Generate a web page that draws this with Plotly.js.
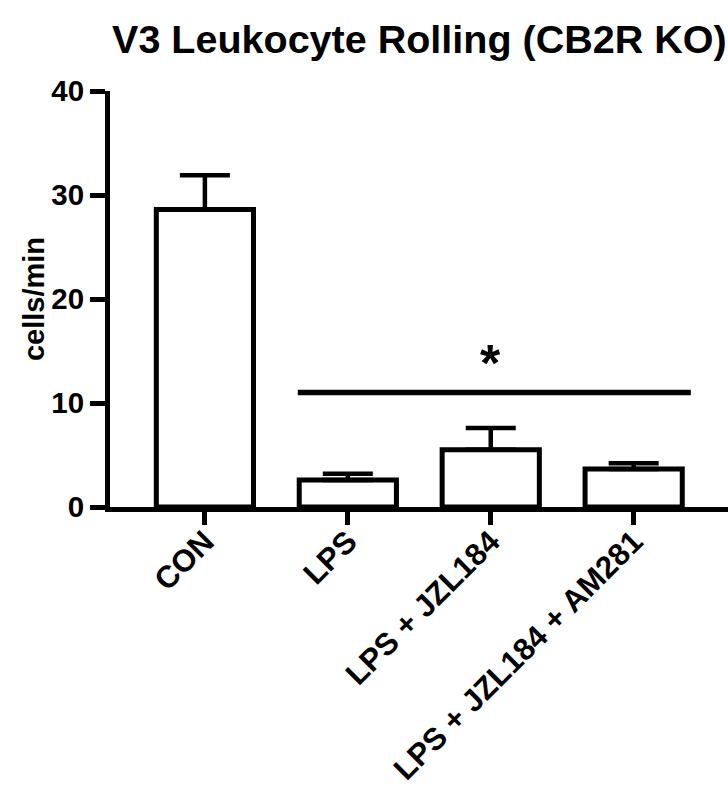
<!DOCTYPE html>
<html>
<head>
<meta charset="utf-8">
<script src="https://cdn.plot.ly/plotly-3.0.1.min.js"></script>
<style>html,body{margin:0;padding:0;background:#fff;}#chart{width:728px;height:791px;}</style>
</head>
<body>
<div id="chart"></div>
<script>
// Data
var categories = ["CON", "LPS", "LPS + JZL184", "LPS + JZL184 + AM281"];
var means = [28.6, 2.6, 5.5, 3.65];
var sems = [3.3, 0.6, 2.1, 0.55];
var sigFrom = "LPS";
var sigTo = "LPS + JZL184 + AM281";
var sigLevel = 11;
var sigMark = "*";
var yTicks = [0, 10, 20, 30, 40];

var FONT = "Liberation Sans, Arial, Helvetica, sans-serif";
var fromIdx = categories.indexOf(sigFrom);
var toIdx = categories.indexOf(sigTo);

var trace = {
  type: "bar",
  x: categories,
  y: means,
  width: 0.68,
  marker: {color: "#ffffff", line: {color: "#000000", width: 5}},
  error_y: {
    type: "data",
    symmetric: false,
    array: sems,
    arrayminus: means.map(function(){return 0;}),
    color: "#000000",
    thickness: 4.5,
    width: 25
  },
  hoverinfo: "skip"
};

var layout = {
  width: 728,
  height: 791,
  margin: {l: 110, r: 0, t: 91, b: 284},
  paper_bgcolor: "#ffffff",
  plot_bgcolor: "#ffffff",
  showlegend: false,
  title: {
    text: "V3 Leukocyte Rolling (CB2R KO)",
    font: {family: FONT, size: 39.5, color: "#000000", weight: 700},
    x: 0.576, xanchor: "center",
    y: 1 - 39 / 791, yanchor: "middle", yref: "container"
  },
  xaxis: {
    type: "category",
    range: [-0.664, 3.66],
    showline: true, linecolor: "#000000", linewidth: 5,
    ticks: "outside", ticklen: 13, tickwidth: 5, tickcolor: "#000000",
    tickangle: -45,
    ticklabelstandoff: -14,
    tickfont: {family: FONT, size: 31, color: "#000000", weight: 700},
    showgrid: false, zeroline: false, fixedrange: true
  },
  yaxis: {
    range: [0, 40],
    tickvals: yTicks,
    ticktext: yTicks.map(String),
    showline: true, linecolor: "#000000", linewidth: 5,
    ticks: "outside", ticklen: 15, tickwidth: 5, tickcolor: "#000000",
    tickfont: {family: FONT, size: 29.5, color: "#000000", weight: 700},
    title: {text: "cells/min", font: {family: FONT, size: 29, color: "#000000", weight: 700}, standoff: 0},
    showgrid: false, zeroline: false, fixedrange: true
  },
  shapes: [{
    type: "line", xref: "x", yref: "y",
    x0: fromIdx - 0.35, x1: toIdx + 0.4,
    y0: sigLevel, y1: sigLevel,
    line: {color: "#000000", width: 5.5}
  }],
  annotations: [{
    xref: "x", yref: "y",
    x: (fromIdx + toIdx) / 2, y: sigLevel + 2.8,
    text: sigMark, showarrow: false,
    font: {family: FONT, size: 52, color: "#000000", weight: 700},
    xanchor: "center", yanchor: "middle"
  }]
};

Plotly.newPlot("chart", [trace], layout, {displayModeBar: false, staticPlot: true});
</script>
</body>
</html>
